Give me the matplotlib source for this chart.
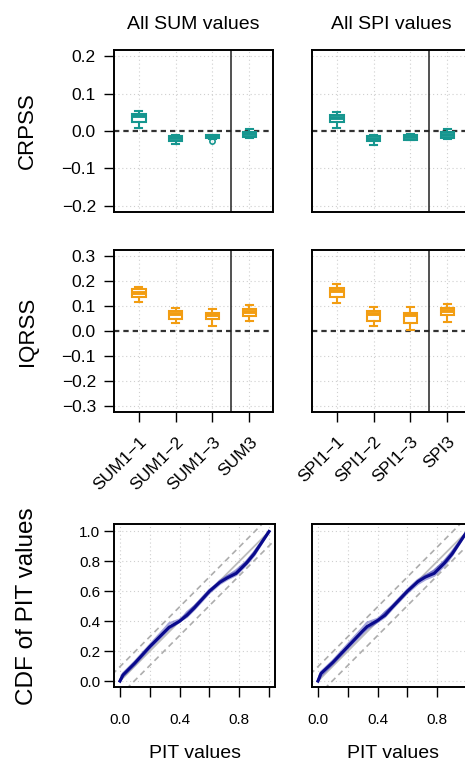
import matplotlib.pyplot as plt

plt.rcParams['font.family'] = ['Liberation Sans', 'DejaVu Sans']
plt.rcParams['axes.unicode_minus'] = True

teal = '#16968f'
orange = '#f29d12'
navy = '#0a0a8c'

titles = ['All SUM values', 'All SPI values']
sum_labels = ['SUM1\u22121', 'SUM1\u22122', 'SUM1\u22123', 'SUM3']
spi_labels = ['SPI1\u22121', 'SPI1\u22122', 'SPI1\u22123', 'SPI3']

# CRPSS box statistics (lower whisker, q1, median, q3, upper whisker)
crpss_sum_lo = [0.009, -0.036, -0.022, -0.019]
crpss_sum_q1 = [0.024, -0.027, -0.019, -0.017]
crpss_sum_med = [0.039, -0.020, -0.015, -0.009]
crpss_sum_q3 = [0.046, -0.014, -0.011, -0.003]
crpss_sum_hi = [0.053, -0.012, -0.010, 0.006]
crpss_sum_out = [[], [], [-0.027], []]

crpss_spi_lo = [0.009, -0.037, -0.025, -0.021]
crpss_spi_q1 = [0.024, -0.027, -0.023, -0.019]
crpss_spi_med = [0.035, -0.021, -0.017, -0.010]
crpss_spi_q3 = [0.044, -0.014, -0.011, -0.004]
crpss_spi_hi = [0.051, -0.010, -0.009, 0.005]
crpss_spi_out = [[], [], [], []]

# IQRSS box statistics
iqrss_sum_lo = [0.117, 0.034, 0.022, 0.039]
iqrss_sum_q1 = [0.135, 0.050, 0.047, 0.062]
iqrss_sum_med = [0.152, 0.068, 0.063, 0.075]
iqrss_sum_q3 = [0.167, 0.082, 0.074, 0.090]
iqrss_sum_hi = [0.177, 0.093, 0.087, 0.104]
iqrss_sum_out = [[], [], [], []]

iqrss_spi_lo = [0.113, 0.022, 0.005, 0.036]
iqrss_spi_q1 = [0.137, 0.039, 0.031, 0.063]
iqrss_spi_med = [0.160, 0.067, 0.066, 0.080]
iqrss_spi_q3 = [0.174, 0.082, 0.074, 0.093]
iqrss_spi_hi = [0.190, 0.096, 0.097, 0.107]
iqrss_spi_out = [[], [], [], []]

# CDF of PIT values
pit_x = [0.0, 0.02, 0.1, 0.2, 0.3, 0.33, 0.4, 0.45, 0.5, 0.6, 0.67, 0.72, 0.78, 0.85, 0.9, 1.0]
pit_sum = [
    [0.0, 0.040, 0.120, 0.230, 0.330, 0.360, 0.400, 0.440, 0.490, 0.600, 0.660, 0.690, 0.720, 0.790, 0.850, 1.0],
    [0.0, 0.050, 0.130, 0.240, 0.350, 0.385, 0.410, 0.450, 0.500, 0.600, 0.670, 0.700, 0.730, 0.800, 0.860, 1.0],
    [0.0, 0.030, 0.110, 0.220, 0.320, 0.350, 0.400, 0.430, 0.480, 0.590, 0.650, 0.680, 0.710, 0.780, 0.840, 1.0],
    [0.0, 0.040, 0.120, 0.225, 0.325, 0.355, 0.395, 0.460, 0.500, 0.610, 0.660, 0.700, 0.740, 0.800, 0.860, 1.0],
]
pit_spi = [
    [0.0, 0.050, 0.125, 0.230, 0.335, 0.365, 0.405, 0.440, 0.495, 0.600, 0.665, 0.695, 0.720, 0.790, 0.850, 1.0],
    [0.0, 0.060, 0.135, 0.245, 0.355, 0.390, 0.415, 0.455, 0.505, 0.610, 0.675, 0.705, 0.735, 0.805, 0.865, 1.0],
    [0.0, 0.035, 0.115, 0.220, 0.320, 0.350, 0.395, 0.430, 0.485, 0.590, 0.650, 0.680, 0.705, 0.775, 0.840, 1.0],
    [0.0, 0.045, 0.120, 0.225, 0.330, 0.355, 0.400, 0.460, 0.500, 0.605, 0.660, 0.700, 0.740, 0.800, 0.860, 1.0],
]
ks_band = 0.096

W, H = 465, 763
fig = plt.figure(figsize=(W / 100, H / 100), dpi=100)


def px_axes(x0, y0, x1, y1):
    return fig.add_axes([x0 / W, 1 - y1 / H, (x1 - x0) / W, (y1 - y0) / H])


def make_stats(lo, q1, med, q3, hi, out):
    return [dict(whislo=lo[i], q1=q1[i], med=med[i], q3=q3[i], whishi=hi[i], fliers=out[i])
            for i in range(len(med))]


def frame(ax):
    for s in ax.spines.values():
        s.set_linewidth(1.4)
        s.set_color('black')


def box_panel(ax, stats, color, lim, ticks, show_y, xlabels):
    for t in ticks:
        if t != 0:
            ax.axhline(t, color='#cfcfcf', lw=0.8, ls=(0, (1, 2.5)), zorder=0)
    for p in range(1, 5):
        ax.axvline(p, color='#cfcfcf', lw=0.8, ls=(0, (1, 2.5)), zorder=0)
    ax.axhline(0, color='#333333', lw=1.6, dashes=(2.4, 1.8), zorder=1)
    ax.axvline(3.5, color='#222222', lw=1.1, zorder=1)
    ax.bxp(stats, positions=[1, 2, 3, 4], widths=0.37, patch_artist=True,
           boxprops=dict(facecolor='white', edgecolor=color, lw=1.5),
           medianprops=dict(color=color, lw=2.8, solid_capstyle='butt'),
           whiskerprops=dict(color=color, lw=1.5),
           capprops=dict(color=color, lw=1.5), capwidths=0.19,
           flierprops=dict(marker='o', markersize=3.8, markerfacecolor='none',
                           markeredgecolor=color, markeredgewidth=1.2),
           zorder=3)
    ax.set_xlim(0.33, 4.64)
    ax.set_ylim(-lim, lim)
    ax.set_yticks(ticks)
    if show_y:
        ax.set_yticklabels([('%.1f' % t).replace('-', '\u2212') for t in ticks])
        ax.tick_params(axis='y', length=7, width=1.0, pad=6, labelsize=12.5)
    else:
        ax.tick_params(axis='y', length=0, labelleft=False)
    if xlabels is None:
        ax.tick_params(axis='x', length=0, labelbottom=False)
    else:
        ax.set_xticks([1, 2, 3, 4])
        ax.set_xticklabels(xlabels, rotation=45, ha='right', va='top',
                           rotation_mode='anchor')
        ax.tick_params(axis='x', length=7, width=1.0, pad=9, labelsize=12.5)
    frame(ax)


def pit_panel(ax, curves, show_y):
    grid = [0.0, 0.2, 0.4, 0.6, 0.8, 1.0]
    for g in grid:
        ax.axhline(g, color='#cfcfcf', lw=0.8, ls=(0, (1, 2.5)), zorder=0)
        ax.axvline(g, color='#cfcfcf', lw=0.8, ls=(0, (1, 2.5)), zorder=0)
    ax.plot([0, 1], [0, 1], color='#bdbdbd', lw=1.3, zorder=1)
    ax.plot([-0.1, 1.1], [-0.1 + ks_band, 1.1 + ks_band], color='#adadad', lw=1.2,
            dashes=(3.5, 2.5), zorder=1)
    ax.plot([-0.1, 1.1], [-0.1 - ks_band, 1.1 - ks_band], color='#adadad', lw=1.2,
            dashes=(3.5, 2.5), zorder=1)
    for c in curves[1:]:
        ax.plot(pit_x, c, color='#3a3ab0', lw=1.8, alpha=0.45, zorder=2)
    ax.plot(pit_x, curves[0], color=navy, lw=2.2, zorder=3)
    ax.set_xlim(-0.04, 1.04)
    ax.set_ylim(-0.04, 1.05)
    ax.set_xticks(grid)
    ax.set_xticklabels(['0.0', '', '0.4', '', '0.8', ''])
    ax.tick_params(axis='x', length=7, width=1.0, pad=12, labelsize=11)
    ax.set_yticks(grid)
    if show_y:
        ax.set_yticklabels(['%.1f' % g for g in grid])
        ax.tick_params(axis='y', length=7, width=1.0, pad=3, labelsize=11)
    else:
        ax.tick_params(axis='y', length=0, labelleft=False)
    ax.set_xlabel('PIT values', fontsize=14, labelpad=13)
    frame(ax)


left = (114, 273)
right = (312, 471)

box_rows = [
    (50, 212, 0.217, [-0.2, -0.1, 0.0, 0.1, 0.2], teal,
     make_stats(crpss_sum_lo, crpss_sum_q1, crpss_sum_med, crpss_sum_q3, crpss_sum_hi, crpss_sum_out),
     make_stats(crpss_spi_lo, crpss_spi_q1, crpss_spi_med, crpss_spi_q3, crpss_spi_hi, crpss_spi_out),
     None, None, 'CRPSS'),
    (250, 412, 0.324, [-0.3, -0.2, -0.1, 0.0, 0.1, 0.2, 0.3], orange,
     make_stats(iqrss_sum_lo, iqrss_sum_q1, iqrss_sum_med, iqrss_sum_q3, iqrss_sum_hi, iqrss_sum_out),
     make_stats(iqrss_spi_lo, iqrss_spi_q1, iqrss_spi_med, iqrss_spi_q3, iqrss_spi_hi, iqrss_spi_out),
     sum_labels, spi_labels, 'IQRSS'),
]

for i, (y0, y1, lim, ticks, color, st_sum, st_spi, lab_sum, lab_spi, name) in enumerate(box_rows):
    ax_l = px_axes(left[0], y0, left[1], y1)
    ax_r = px_axes(right[0], y0, right[1], y1)
    box_panel(ax_l, st_sum, color, lim, ticks, True, lab_sum)
    box_panel(ax_r, st_spi, color, lim, ticks, False, lab_spi)
    fig.text(27 / W, 1 - (y0 + y1) / 2 / H, name, rotation=90, ha='center', va='center',
             fontsize=16)
    if i == 0:
        ax_l.set_title(titles[0], fontsize=14, pad=15)
        ax_r.set_title(titles[1], fontsize=14, pad=15)

ax_pl = px_axes(114, 524, 275, 687)
ax_pr = px_axes(312, 524, 473, 687)
pit_panel(ax_pl, pit_sum, True)
pit_panel(ax_pr, pit_spi, False)
fig.text(27 / W, 1 - 606 / H, 'CDF of PIT values', rotation=90, ha='center', va='center',
         fontsize=17.5)

fig.savefig('out.png', dpi=100)
